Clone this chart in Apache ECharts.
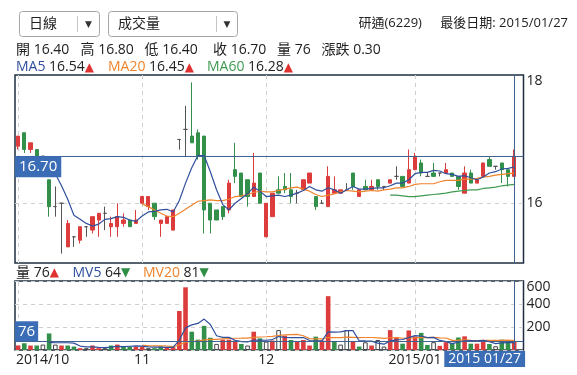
<!DOCTYPE html>
<html><head><meta charset="utf-8">
<script src="https://cdn.jsdelivr.net/npm/echarts@6/dist/echarts.min.js"></script>
<style>html,body{margin:0;padding:0;background:#fff}#c{width:577px;height:375px}</style>
</head><body><div id="c"></div>
<script>
// ---------------- data ----------------
const dates = [
'2014/10/03','2014/10/06','2014/10/07','2014/10/08','2014/10/09','2014/10/13','2014/10/14','2014/10/15','2014/10/16','2014/10/17',
'2014/10/20','2014/10/21','2014/10/22','2014/10/23','2014/10/24','2014/10/27','2014/10/28','2014/10/29','2014/10/30','2014/10/31',
'2014/11/03','2014/11/04','2014/11/05','2014/11/06','2014/11/07','2014/11/10','2014/11/11','2014/11/12','2014/11/13','2014/11/14',
'2014/11/17','2014/11/18','2014/11/19','2014/11/20','2014/11/21','2014/11/24','2014/11/25','2014/11/26','2014/11/27','2014/11/28',
'2014/12/01','2014/12/02','2014/12/03','2014/12/04','2014/12/05','2014/12/08','2014/12/09','2014/12/10','2014/12/11','2014/12/12',
'2014/12/15','2014/12/16','2014/12/17','2014/12/18','2014/12/19','2014/12/22','2014/12/23','2014/12/24','2014/12/25','2014/12/26',
'2014/12/27','2014/12/29','2014/12/30','2014/12/31',
'2015/01/05','2015/01/06','2015/01/07','2015/01/08','2015/01/09','2015/01/12','2015/01/13','2015/01/14','2015/01/15','2015/01/16',
'2015/01/19','2015/01/20','2015/01/21','2015/01/22','2015/01/23','2015/01/26','2015/01/27'];
const openP = [16.85,17.05,16.80,16.80,16.70,16.35,15.95,16.00,15.35,15.50, 15.45,15.65,15.60,15.75,15.85,15.65,15.65,15.70,15.75,15.70,
 16.00,15.95,16.00,15.70,15.70,15.60,16.95,17.10,17.00,17.05, 17.00,16.00,15.90,15.95,15.90,16.50,16.45,16.35,16.10,16.45,
 15.50,15.80,16.20,16.25,16.20,16.15,16.20,16.30,16.10,16.00, 15.95,16.15,16.15,16.20,16.45,16.10,16.25,16.20,16.35,16.25,
 16.30,16.40,16.40,16.30,16.50,16.60,16.40,16.45,16.45,16.45, 16.45,16.40,16.15,16.45,16.30,16.40,16.65,16.55,16.60,16.50, 16.40];
const closeP = [17.00,16.80,16.90,16.70,16.70,15.95,15.95,16.00,15.70,15.50, 15.65,15.65,15.80,15.85,15.85,15.70,15.80,15.75,15.65,15.75,
 16.10,16.10,15.80,15.75,15.80,15.90,16.95,17.10,16.90,16.70, 15.90,15.75,15.75,15.80,16.30,16.40,16.10,16.10,16.30,16.00,
 16.00,16.15,16.15,16.20,16.10,16.15,16.35,16.45,15.95,16.00, 16.40,16.20,16.20,16.20,16.25,16.20,16.20,16.25,16.25,16.25,
 16.35,16.40,16.25,16.50,16.70,16.45,16.40,16.40,16.45,16.50, 16.40,16.25,16.45,16.30,16.35,16.60,16.55,16.55,16.50,16.40, 16.70];
const lowP = [16.80,16.75,16.75,16.70,16.70,15.80,15.80,15.25,15.35,15.35, 15.40,15.50,15.55,15.50,15.60,15.50,15.50,15.65,15.65,15.70,
 16.00,15.90,15.75,15.50,15.70,15.60,16.80,16.70,16.90,16.65, 15.55,15.55,15.75,15.75,15.85,16.30,16.10,15.95,16.10,16.00,
 15.50,15.80,16.15,16.15,16.00,16.00,16.20,16.30,15.90,16.00, 15.95,16.15,16.15,16.20,16.20,16.10,16.20,16.20,16.20,16.20,
 16.30,16.35,16.25,16.30,16.50,16.40,16.40,16.40,16.40,16.45, 16.40,16.20,16.15,16.30,16.30,16.40,16.55,16.50,16.30,16.25, 16.40];
const highP = [17.00,17.05,16.90,16.80,16.70,16.35,16.25,16.00,15.75,15.50, 15.65,15.65,15.80,15.85,15.95,15.80,16.00,15.85,15.75,15.90,
 16.10,16.10,16.00,15.75,15.80,15.90,16.95,17.45,17.80,17.10, 17.00,16.00,15.90,15.95,16.35,16.90,16.45,16.35,16.75,16.45,
 16.00,16.15,16.40,16.45,16.45,16.20,16.35,16.45,16.10,16.05, 16.55,16.40,16.20,16.30,16.45,16.20,16.35,16.35,16.35,16.25,
 16.35,16.55,16.40,16.80,16.75,16.65,16.45,16.60,16.45,16.60, 16.45,16.40,16.55,16.50,16.35,16.60,16.70,16.55,16.60,16.50, 16.80];
const volume = [40,59,39,39,47,144,47,39,39,30, 16,16,39,16,16,39,47,30,30,30,
 30,16,16,30,24,24,339,545,159,90, 210,107,53,90,90,82,53,39,159,101,
 73,82,173,124,87,73,87,39,116,82, 468,76,47,173,76,30,67,39,87,30,
 173,112,55,170,118,149,44,68,36,68, 62,109,119,55,55,80,52,33,90,69, 76];
const ma5 = [null,null,null,null,null,16.61,16.44,16.26,16.06,15.82, 15.76,15.70,15.66,15.69,15.76,15.77,15.80,15.79,15.75,15.73,
 15.81,15.87,15.88,15.90,15.91,15.87,16.04,16.30,16.53,16.71, 16.71,16.47,16.20,15.98,15.90,16.00,16.07,16.14,16.24,16.18,
 16.10,16.11,16.12,16.10,16.12,16.15,16.19,16.25,16.20,16.18, 16.23,16.20,16.15,16.20,16.25,16.21,16.21,16.22,16.23,16.23,
 16.26,16.30,16.30,16.35,16.44,16.46,16.46,16.49,16.48,16.44, 16.43,16.40,16.41,16.38,16.35,16.39,16.45,16.47,16.51,16.52, 16.54];
const ma20 = [null,null,null,null,null,null,null,null,null,null, null,null,null,null,null,null,null,null,null,null,
 15.99,15.95,15.90,15.85,15.81,15.80,15.85,15.91,15.97,16.03, 16.04,16.05,16.04,16.04,16.06,16.10,16.11,16.13,16.16,16.18,
 16.17,16.17,16.19,16.21,16.23,16.24,16.21,16.18,16.13,16.10, 16.12,16.14,16.17,16.19,16.18,16.17,16.18,16.19,16.18,16.20,
 16.21,16.23,16.23,16.25,16.28,16.29,16.29,16.29,16.32,16.34, 16.34,16.34,16.36,16.36,16.37,16.39,16.40,16.42,16.43,16.44, 16.45];
const ma60 = [null,null,null,null,null,null,null,null,null,null, null,null,null,null,null,null,null,null,null,null,
 null,null,null,null,null,null,null,null,null,null, null,null,null,null,null,null,null,null,null,null,
 null,null,null,null,null,null,null,null,null,null, null,null,null,null,null,null,null,null,null,null,
 16.12,16.12,16.11,16.10,16.10,16.11,16.12,16.13,16.14,16.15, 16.17,16.18,16.19,16.20,16.20,16.22,16.23,16.24,16.26,16.27, 16.28];
const mv5 = [null,null,null,null,null,65.6,63.2,63.2,63.2,59.8, 34.2,28,28,23.4,20.6,25.2,31.4,29.6,32.4,35.2,
 33.4,27.2,24.4,24.4,23.2,22,86.6,192.4,218.2,231.4, 268.6,222.2,123.8,110,110,84.4,73.6,70.8,84.6,86.8,
 85,90.8,117.6,110.6,107.8,107.8,108.8,82,80.4,79.4, 158.4,156.2,157.8,169.2,168,80.4,78.6,77,59.8,50.6,
 79.2,88.2,91.4,108,125.6,120.8,107.2,109.8,83,73, 55.6,68.6,78.8,82.6,80,83.6,72.2,55,62,64.8, 64];
const mv20 = [null,null,null,null,null,null,null,null,null,null, null,null,null,null,null,null,null,null,null,null,
 39.6,37.5,36.3,35.9,34.7,28.7,43.3,68.6,74.6,77.6, 87.3,91.9,92.6,96.3,100,102.1,102.4,102.9,109.3,112.9,
 115,118.3,126.2,130.9,134,136.5,123.9,98.6,96.4,96, 108.9,107.4,107.1,111.2,110.5,107.9,108.6,108.6,105,101.5,
 106.5,108,102.1,104.4,105.9,109.7,107.6,109,105,104.3, 84,85.7,89.3,83.4,82.3,84.8,84.1,83.8,83.9,85.9, 81];

const monthStarts = ['2014/10/03','2014/11/03','2014/12/01','2015/01/05'];
const monthLabels = ['2014/10','11','12','2015/01'];
const priceTickValues = [16];
const volTickLabels = ['200','400','600'];

const headerTexts = ['研通(6229)','最後日期: 2015/01/27'];
const menuTexts = ['日線','成交量'];
const ohlcNames = ['開','高','低','收','量','漲跌'];
const ohlcValues = ['16.40','16.80','16.40','16.70','76','0.30'];
const maNames = ['MA5','MA20','MA60'];
const maValues = ['16.54','16.45','16.28'];
const maArrows = ['▲','▲','▲'];
const volNames = ['量','MV5','MV20'];
const volValues = ['76','64','81'];
const volArrows = ['▲','▼','▼'];
const lastDateLabel = '2015 01/27';

// ---------------- layout / style ----------------
const FONT = "'Open Sans','Noto Sans CJK TC',sans-serif";
const RED = '#dc3d3c', GREEN = '#33904a', DOJI = '#555555';
const C_MA5 = '#2f4f9c', C_MA20 = '#f0832c', C_MA60 = '#3f9a50';
const CROSS = '#40628f', TAG = '#3a6db5', BORDER = '#1f2e42';
const PRICE_MIN = 15.11, PRICE_MAX = 17.91;
const ohlcX = [16, 80.5, 144.5, 213, 277, 321.5];
const maX = [16, 108, 207];
const volX = [16, 72.5, 143];
const lastIdx = dates.length - 1;
const cats = dates.concat(['']);

const upArrow = {fill: '#e03131', fontSize: 12, fontFamily: 'DejaVu Sans'};
const dnArrow = {fill: '#2f8f46', fontSize: 12, fontFamily: 'DejaVu Sans'};
const baseTxt = {fontSize: 14, fontFamily: FONT, fill: '#222'};
const headTxt = {fontSize: 13, fontFamily: FONT, fill: '#222'};

const graphics = [];
// dropdown menus
[[19.5, 80, 77.5, 88.5], [108.5, 129, 216.5, 227]].forEach((m, i) => {
  graphics.push({type: 'rect', shape: {x: m[0], y: 11.5, width: m[1], height: 25, r: 3},
    style: {fill: '#fff', stroke: '#a6a6a6', lineWidth: 1}});
  graphics.push({type: 'line', shape: {x1: m[2], y1: 16, x2: m[2], y2: 32}, style: {stroke: '#c4c4c4', lineWidth: 1}});
  graphics.push({type: 'text', style: Object.assign({text: menuTexts[i], x: m[0] + 9.5, y: 24, verticalAlign: 'middle', textVerticalAlign: 'middle'}, baseTxt)});
  graphics.push({type: 'text', style: {text: '▼', x: m[3], y: 24.5, fontSize: 9, fontFamily: 'DejaVu Sans', fill: '#333', align: 'center', textAlign: 'center', verticalAlign: 'middle', textVerticalAlign: 'middle'}});
});
graphics.push({type: 'text', style: Object.assign({text: headerTexts[0], x: 358.5, y: 23, verticalAlign: 'middle', textVerticalAlign: 'middle'}, headTxt)});
graphics.push({type: 'text', style: Object.assign({text: headerTexts[1], x: 568, y: 23, align: 'right', textAlign: 'right', verticalAlign: 'middle', textVerticalAlign: 'middle'}, headTxt)});
ohlcNames.forEach((n, i) => {
  graphics.push({type: 'text', style: Object.assign({text: n + ' ' + ohlcValues[i], x: ohlcX[i], y: 50, verticalAlign: 'middle', textVerticalAlign: 'middle'}, baseTxt)});
});
const maCols = [C_MA5, C_MA20, C_MA60];
maNames.forEach((n, i) => {
  graphics.push({type: 'text', style: {text: '{n|' + n + '} {v|' + maValues[i] + '}{u|' + maArrows[i] + '}', x: maX[i], y: 67.5,
    verticalAlign: 'middle', textVerticalAlign: 'middle', fontSize: 14, fontFamily: FONT, fill: '#222',
    rich: {n: {fontSize: 14, fontFamily: FONT, fill: maCols[i]}, v: {fontSize: 14, fontFamily: FONT, fill: '#222'}, u: upArrow}}});
});
const volCols = ['#222', C_MA5, C_MA20];
volNames.forEach((n, i) => {
  graphics.push({type: 'text', style: {text: '{n|' + n + '} {v|' + volValues[i] + '}{u|' + volArrows[i] + '}', x: volX[i], y: 273,
    verticalAlign: 'middle', textVerticalAlign: 'middle', fontSize: 14, fontFamily: FONT, fill: '#222',
    rich: {n: {fontSize: 14, fontFamily: FONT, fill: volCols[i]}, v: {fontSize: 14, fontFamily: FONT, fill: '#222'}, u: volArrows[i] === '▲' ? upArrow : dnArrow}}});
});

// candle data with doji styling
const candleData = dates.map((d, i) => {
  const item = {value: [openP[i], closeP[i], lowP[i], highP[i]]};
  if (openP[i] === closeP[i]) item.itemStyle = {color: DOJI, color0: DOJI, borderColor: DOJI, borderColor0: DOJI};
  return item;
});
const volData = volume.map((v, i) => {
  const prev = i > 0 ? closeP[i - 1] : openP[i];
  if (closeP[i] > prev) return {value: v, itemStyle: {color: RED}};
  if (closeP[i] < prev) return {value: v, itemStyle: {color: GREEN}};
  return {value: v, itemStyle: {color: '#ffffff', borderColor: '#444', borderWidth: 1}};
});

const dashed = {color: '#cfcfcf', type: [4, 4], width: 1};
const monthLines = monthStarts.map(d => ({xAxis: d}));

const option = {
  animation: false,
  textStyle: {fontFamily: FONT},
  graphic: graphics,
  grid: [
    {left: 15, right: 53.5, top: 75, height: 188, show: true, borderColor: BORDER, borderWidth: 1.5, backgroundColor: 'transparent'},
    {left: 15, right: 53.5, top: 281, height: 69, show: true, borderColor: BORDER, borderWidth: 1.5, backgroundColor: 'transparent'}
  ],
  xAxis: [
    {gridIndex: 0, type: 'category', data: cats, boundaryGap: true, axisLine: {show: false}, axisTick: {show: false},
      axisLabel: {show: false}, splitLine: {show: false}},
    {gridIndex: 1, type: 'category', data: cats, boundaryGap: true, axisLine: {show: false}, axisTick: {show: false},
      splitLine: {show: false},
      axisLabel: {show: true, margin: 3, color: '#222', fontSize: 14, fontFamily: FONT,
        interval: (idx, val) => monthStarts.indexOf(val) >= 0,
        formatter: (val) => {
          const m = monthStarts.indexOf(val);
          if (m < 0) return '';
          return m === 0 ? '{first|' + monthLabels[m] + '}' : monthLabels[m];
        },
        rich: {first: {fontSize: 14, fontFamily: FONT, color: '#222', padding: [0, 0, 0, 49]}}}}
  ],
  yAxis: [
    {gridIndex: 0, type: 'value', position: 'right', min: PRICE_MIN, max: PRICE_MAX,
      axisLine: {show: false}, axisTick: {show: false}, splitLine: {show: false},
      axisLabel: {show: true, margin: 3, color: '#222', fontSize: 14, fontFamily: FONT, showMaxLabel: true, showMinLabel: false,
        formatter: (v) => {
          if (priceTickValues.some(t => Math.abs(v - t) < 1e-6)) return String(Math.round(v));
          if (Math.abs(v - PRICE_MAX) < 1e-6) return '{top|' + Math.round(v) + '}';
          return '';
        },
        rich: {top: {fontSize: 14, fontFamily: FONT, color: '#222', padding: [12, 0, 0, 0]}}}},
    {gridIndex: 1, type: 'value', position: 'right', min: 0, max: 600, interval: 200,
      axisLine: {show: false}, axisTick: {show: false},
      splitLine: {show: true, lineStyle: dashed},
      axisLabel: {show: true, margin: 3, color: '#222', fontSize: 14, fontFamily: FONT, showMaxLabel: true,
        formatter: (v) => {
          const s = String(v);
          if (volTickLabels.indexOf(s) < 0) return '';
          return v === 600 ? '{top|' + s + '}' : s;
        },
        rich: {top: {fontSize: 14, fontFamily: FONT, color: '#222', padding: [12, 0, 0, 0]}}}}
  ],
  series: [
    {type: 'line', name: 'gridlines', xAxisIndex: 0, yAxisIndex: 0, data: closeP, showSymbol: false, silent: true,
      lineStyle: {opacity: 0}, z: 1,
      markLine: {silent: true, symbol: ['none', 'none'], z: 1, label: {show: false}, lineStyle: dashed,
        data: [{yAxis: 16}].concat(monthLines)}},
    {type: 'candlestick', name: 'K', xAxisIndex: 0, yAxisIndex: 0, data: candleData, barWidth: 3.8, z: 2,
      itemStyle: {color: RED, color0: GREEN, borderColor: RED, borderColor0: GREEN, borderWidth: 1}},
    {type: 'line', name: 'MA60', xAxisIndex: 0, yAxisIndex: 0, data: ma60, showSymbol: false, z: 3,
      lineStyle: {color: C_MA60, width: 1.2}},
    {type: 'line', name: 'MA20', xAxisIndex: 0, yAxisIndex: 0, data: ma20, showSymbol: false, z: 3,
      lineStyle: {color: C_MA20, width: 1.2}},
    {type: 'line', name: 'MA5', xAxisIndex: 0, yAxisIndex: 0, data: ma5, showSymbol: false, z: 3,
      lineStyle: {color: C_MA5, width: 1.2}},
    {type: 'line', name: 'cross', xAxisIndex: 0, yAxisIndex: 0, data: closeP, showSymbol: false, silent: true,
      lineStyle: {opacity: 0}, z: 6,
      markLine: {silent: true, symbol: ['none', 'none'], z: 6, label: {show: false},
        lineStyle: {color: CROSS, type: 'solid', width: 1},
        data: [
          {yAxis: closeP[lastIdx], label: {show: true, position: 'insideStartBottom', distance: [0, 0],
            formatter: closeP[lastIdx].toFixed(2), color: '#fff', backgroundColor: TAG, padding: [2, 4, 2, 4],
            fontSize: 15, lineHeight: 17, fontFamily: FONT}},
          {xAxis: dates[lastIdx]}
        ]}},
    {type: 'line', name: 'vgrid', xAxisIndex: 1, yAxisIndex: 1, data: volume, showSymbol: false, silent: true,
      lineStyle: {opacity: 0}, z: 1,
      markLine: {silent: true, symbol: ['none', 'none'], z: 1, label: {show: false}, lineStyle: dashed,
        data: monthLines}},
    {type: 'bar', name: '量', xAxisIndex: 1, yAxisIndex: 1, data: volData, barWidth: 4.6, z: 2},
    {type: 'line', name: 'MV20', xAxisIndex: 1, yAxisIndex: 1, data: mv20, showSymbol: false, z: 3,
      lineStyle: {color: C_MA20, width: 1.2}},
    {type: 'line', name: 'MV5', xAxisIndex: 1, yAxisIndex: 1, data: mv5, showSymbol: false, z: 3,
      lineStyle: {color: C_MA5, width: 1.2}},
    {type: 'line', name: 'vcross', xAxisIndex: 1, yAxisIndex: 1, data: volume, showSymbol: false, silent: true,
      lineStyle: {opacity: 0}, z: 6,
      markLine: {silent: true, symbol: ['none', 'none'], z: 6, label: {show: false},
        lineStyle: {color: CROSS, type: 'solid', width: 1},
        data: [
          {yAxis: volume[lastIdx], label: {show: true, position: 'insideStartTop', distance: [0, 0],
            formatter: String(volume[lastIdx]), color: '#fff', backgroundColor: TAG, padding: [2, 3, 1, 3],
            fontSize: 15, lineHeight: 17, fontFamily: FONT}},
          {xAxis: dates[lastIdx], label: {show: true, position: 'start', distance: 1, offset: [-29.5, 0],
            formatter: lastDateLabel, color: '#fff', backgroundColor: TAG, padding: [0, 4, 0, 4],
            fontSize: 14, lineHeight: 16, fontFamily: FONT}}
        ]}}
  ]
};
const chart = echarts.init(document.getElementById('c'), null, {renderer: 'canvas'});
chart.setOption(option);
</script>
</body></html>
